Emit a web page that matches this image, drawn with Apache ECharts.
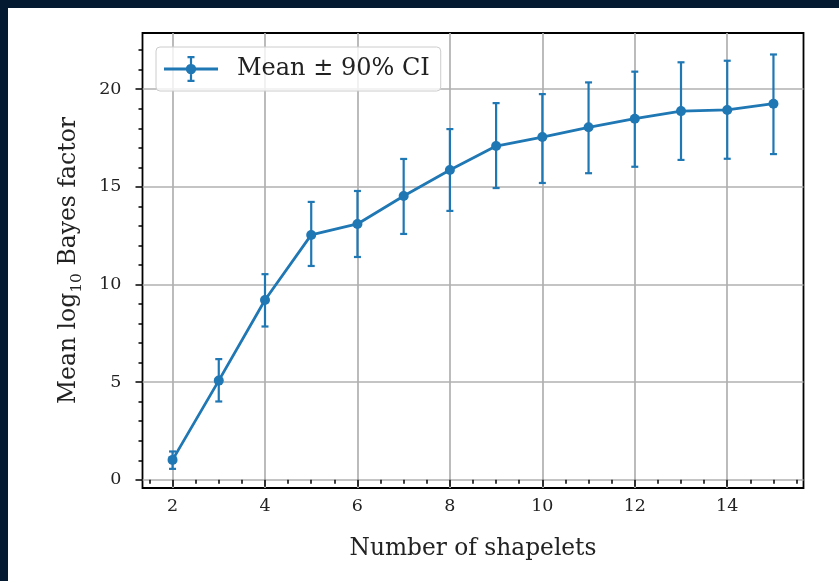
<!DOCTYPE html>
<html>
<head>
<meta charset="utf-8">
<script src="https://cdn.jsdelivr.net/npm/echarts@6/dist/echarts.min.js"></script>
<style>
  html, body { margin: 0; padding: 0; background: #031a30; }
  #chart { position: absolute; left: 8px; top: 8px; width: 831px; height: 573px; background: #fff; }
</style>
</head>
<body>
<div id="chart"></div>
<script>
// data
const shapelets = [2, 3, 4, 5, 6, 7, 8, 9, 10, 11, 12, 13, 14, 15]
const meanBF = [1.02, 5.08, 9.21, 12.54, 13.1, 14.53, 15.86, 17.09, 17.55, 18.05, 18.49, 18.88, 18.94, 19.26]
const ciLow = [0.56, 4.01, 7.85, 10.95, 11.41, 12.59, 13.77, 14.94, 15.2, 15.7, 16.03, 16.38, 16.44, 16.68]
const ciHigh = [1.45, 6.18, 10.53, 14.23, 14.79, 16.43, 17.96, 19.29, 19.75, 20.35, 20.9, 21.38, 21.46, 21.78]

// ticks
const xMajor = [2, 4, 6, 8, 10, 12, 14]
const xMinor = [1.5, 2.5, 3, 3.5, 4.5, 5, 5.5, 6.5, 7, 7.5, 8.5, 9, 9.5, 10.5, 11, 11.5, 12.5, 13, 13.5, 14.5, 15, 15.5]
const yMajor = [0, 5, 10, 15, 20]
const yMinor = [1, 2, 3, 4, 6, 7, 8, 9, 11, 12, 13, 14, 16, 17, 18, 19, 21, 22]

const seriesName = 'Mean ± 90% CI'
const blue = '#1f77b4'
const font = 'DejaVu Serif'

const meanData = shapelets.map((x, i) => [x, meanBF[i]])
const errData = shapelets.map((x, i) => [x, ciLow[i], ciHigh[i]])

// legend icon: line + marker + errorbar
const legendIcon = 'path://M0 11.6H54V14.4H0Z M25.9 0H28.1V26H25.9Z M23.5 0H30.5V2.2H23.5Z M23.5 23.8H30.5V26H23.5Z M21.8 13A5.2 5.2 0 1 1 32.2 13A5.2 5.2 0 1 1 21.8 13Z'

const tickLine = { color: '#000', width: 1.5 }
const gridLine = { color: '#b0b0b0', width: 1.7 }

const chart = echarts.init(document.getElementById('chart'))

chart.setOption({
  animation: false,
  grid: {
    left: 134.5,
    right: 35.5,
    top: 25,
    bottom: 93,
    show: true,
    borderColor: '#000',
    borderWidth: 1.8,
    backgroundColor: 'transparent'
  },
  legend: {
    data: [seriesName],
    left: 148,
    top: 39,
    padding: [9, 11, 9, 8],
    icon: legendIcon,
    itemWidth: 54,
    itemHeight: 26,
    backgroundColor: 'rgba(255,255,255,0.8)',
    borderColor: '#cccccc',
    borderWidth: 1,
    borderRadius: 4,
    textStyle: { fontFamily: font, fontSize: 24, color: '#222', padding: [0, 0, 0, 14] }
  },
  xAxis: [
    {
      type: 'value',
      min: 1.35,
      max: 15.65,
      name: 'Number of shapelets',
      nameLocation: 'middle',
      nameGap: 49,
      nameTextStyle: { fontFamily: font, fontSize: 23.3, color: '#222' },
      axisLine: { show: false },
      axisTick: { show: true, length: 7, lineStyle: tickLine, customValues: xMajor },
      axisLabel: { fontFamily: font, fontSize: 17.5, color: '#222', margin: 9, customValues: xMajor },
      splitLine: { show: true, lineStyle: gridLine }
    },
    {
      type: 'value',
      min: 1.35,
      max: 15.65,
      position: 'bottom',
      axisLine: { show: false },
      axisTick: { show: true, length: 4, lineStyle: tickLine, customValues: xMinor },
      axisLabel: { show: false },
      splitLine: { show: false }
    }
  ],
  yAxis: [
    {
      type: 'value',
      min: -0.42,
      max: 22.88,
      name: '{a|Mean log}{s|10}{a| Bayes factor}',
      nameLocation: 'middle',
      nameGap: 58,
      nameTextStyle: {
        rich: {
          a: { fontFamily: font, fontSize: 23.5, color: '#222', lineHeight: 32, verticalAlign: 'middle' },
          s: { fontFamily: font, fontSize: 15.5, color: '#222', lineHeight: 19, verticalAlign: 'bottom' }
        }
      },
      axisLine: { show: false },
      axisTick: { show: true, length: 7, lineStyle: tickLine, customValues: yMajor },
      axisLabel: { fontFamily: font, fontSize: 17.5, color: '#222', margin: 21, customValues: yMajor },
      splitLine: { show: true, lineStyle: gridLine }
    },
    {
      type: 'value',
      min: -0.42,
      max: 22.88,
      position: 'left',
      axisLine: { show: false },
      axisTick: { show: true, length: 4, lineStyle: tickLine, customValues: yMinor },
      axisLabel: { show: false },
      splitLine: { show: false }
    }
  ],
  series: [
    {
      name: 'CI',
      type: 'custom',
      xAxisIndex: 0,
      yAxisIndex: 0,
      encode: { x: 0, y: [1, 2] },
      data: errData,
      z: 3,
      renderItem: function (params, api) {
        const x = api.value(0)
        const lo = api.coord([x, api.value(1)])
        const hi = api.coord([x, api.value(2)])
        const w = 3.5
        const st = { stroke: blue, lineWidth: 2.2 }
        return {
          type: 'group',
          children: [
            { type: 'line', shape: { x1: lo[0], y1: lo[1], x2: hi[0], y2: hi[1] }, style: st },
            { type: 'line', shape: { x1: lo[0] - w, y1: lo[1], x2: lo[0] + w, y2: lo[1] }, style: st },
            { type: 'line', shape: { x1: hi[0] - w, y1: hi[1], x2: hi[0] + w, y2: hi[1] }, style: st }
          ]
        }
      }
    },
    {
      name: seriesName,
      type: 'line',
      xAxisIndex: 0,
      yAxisIndex: 0,
      data: meanData,
      z: 4,
      symbol: 'circle',
      symbolSize: 10,
      showAllSymbol: true,
      itemStyle: { color: blue },
      lineStyle: { color: blue, width: 2.8 }
    }
  ]
})
</script>
</body>
</html>
